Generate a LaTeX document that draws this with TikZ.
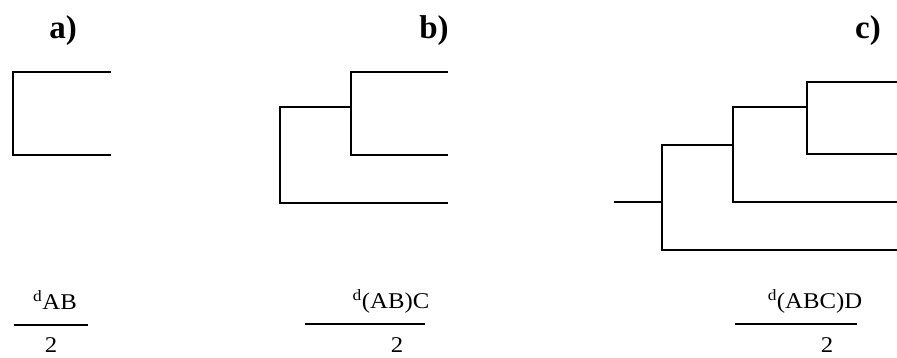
\documentclass[tikz,border=0pt]{standalone}
\usepackage{fontspec}
\setmainfont{Liberation Serif}
\usepackage{tikz}
\usetikzlibrary{positioning,calc}

\begin{document}
\begin{tikzpicture}[
  x=1pt, y=-1pt,
  branch/.style={line width=1.5pt, line cap=rect},
  fracbar/.style={line width=1.5pt},
  panel/.style={font=\bfseries\fontsize{33}{36}\selectfont, inner sep=0pt},
  num/.style={font=\fontsize{22.5}{26}\selectfont, xscale=1.1, anchor=base, inner sep=0pt}
]
\useasboundingbox (0,0) rectangle (897,357);

% Panel labels
\node[panel] (la) at (63,31) {a)};
\node[panel] (lb) at (434,31) {b)};
\node[panel] (lc) at (868,31) {c)};

% a) two taxa
\coordinate (aA) at (110,72);
\coordinate (aB) at (110,155);
\coordinate (a1) at (13,113);
\draw[branch] (aA) -| (a1) |- (aB);

% b) three taxa
\coordinate (bA) at (447,72);
\coordinate (bB) at (447,155);
\coordinate (bC) at (447,203);
\coordinate (b1) at (351,107);
\coordinate (b2) at (280,155);
\draw[branch] (bA) -| (b1) |- (bB);
\draw[branch] (b1) -| (b2) |- (bC);

% c) four taxa
\coordinate (cA) at (897,82);
\coordinate (cB) at (897,154);
\coordinate (cC) at (897,202);
\coordinate (cD) at (897,250);
\coordinate (c1) at (807,107);
\coordinate (c2) at (733,145);
\coordinate (c3) at (662,202);
\coordinate (cR) at (615,202);
\draw[branch] (cA) -| (c1) |- (cB);
\draw[branch] (c1) -| (c2) |- (cC);
\draw[branch] (c2) -| (c3) |- (cD);
\draw[branch] (cR) -- (c3);

% Branch lengths
\node[num] (fa) at (55,309) {\textsuperscript{d}AB};
\coordinate (faL) at (14,325);
\coordinate (faR) at (88,325);
\draw[fracbar] (faL) -- (faR);
\node[num] (fa2) at (51,352) {2};

\node[num] (fb) at (391,308) {\textsuperscript{d}(AB)C};
\coordinate (fbL) at (305,324);
\coordinate (fbR) at (425,324);
\draw[fracbar] (fbL) -- (fbR);
\node[num] (fb2) at (397,352) {2};

\node[num] (fc) at (815,308) {\textsuperscript{d}(ABC)D};
\coordinate (fcL) at (735,324);
\coordinate (fcR) at (857,324);
\draw[fracbar] (fcL) -- (fcR);
\node[num] (fc2) at (827,352) {2};
\end{tikzpicture}
\end{document}
